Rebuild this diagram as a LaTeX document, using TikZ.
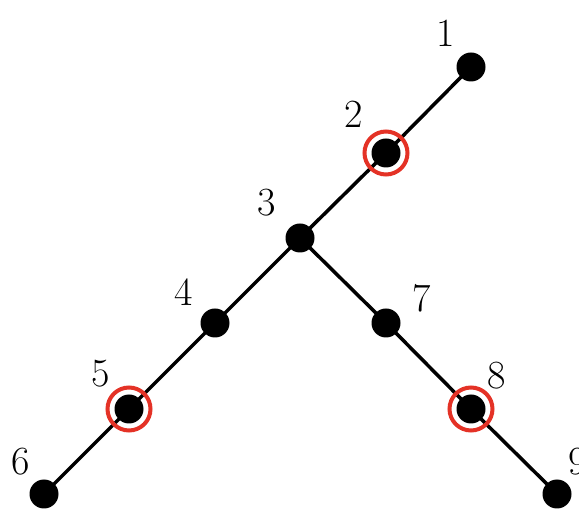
\documentclass[tikz,border=0pt]{standalone}
\begin{document}
\begin{tikzpicture}[x=1pt,y=-1pt,
  dot/.style={circle,fill=black,minimum size=29pt,inner sep=0pt},
  ring/.style={circle,draw={rgb,255:red,228;green,50;blue,38},line width=4pt,minimum size=43pt,inner sep=0pt},
  lbl/.style={font=\fontsize{40}{40}\selectfont,inner sep=0pt},
  edge/.style={line width=3.5pt}]
\useasboundingbox (0,0) rectangle (579,510);
\coordinate (p1) at (471,67);
\coordinate (p2) at (386,153);
\coordinate (p3) at (300,238);
\coordinate (p4) at (215,323);
\coordinate (p5) at (129,409);
\coordinate (p6) at (44,494);
\coordinate (p7) at (386,323);
\coordinate (p8) at (471,409);
\coordinate (p9) at (557,494);
\draw[edge] (p1) -- (p2) -- (p3) -- (p4) -- (p5) -- (p6);
\draw[edge] (p3) -- (p7) -- (p8) -- (p9);
\foreach \i in {1,...,9} {\node[dot] (n\i) at (p\i) {};}
\node[ring] (r2) at (p2) {};
\node[ring] (r5) at (p5) {};
\node[ring] (r8) at (p8) {};
\node[lbl] (l1) at (446,33) {1};
\node[lbl] (l2) at (354,114) {2};
\node[lbl] (l3) at (267,203) {3};
\node[lbl] (l4) at (184,292) {4};
\node[lbl] (l5) at (101,374) {5};
\node[lbl] (l6) at (21,462) {6};
\node[lbl] (l7) at (422,298) {7};
\node[lbl] (l8) at (497,376) {8};
\node[lbl] (l9) at (578,462) {9};
\end{tikzpicture}
\end{document}
